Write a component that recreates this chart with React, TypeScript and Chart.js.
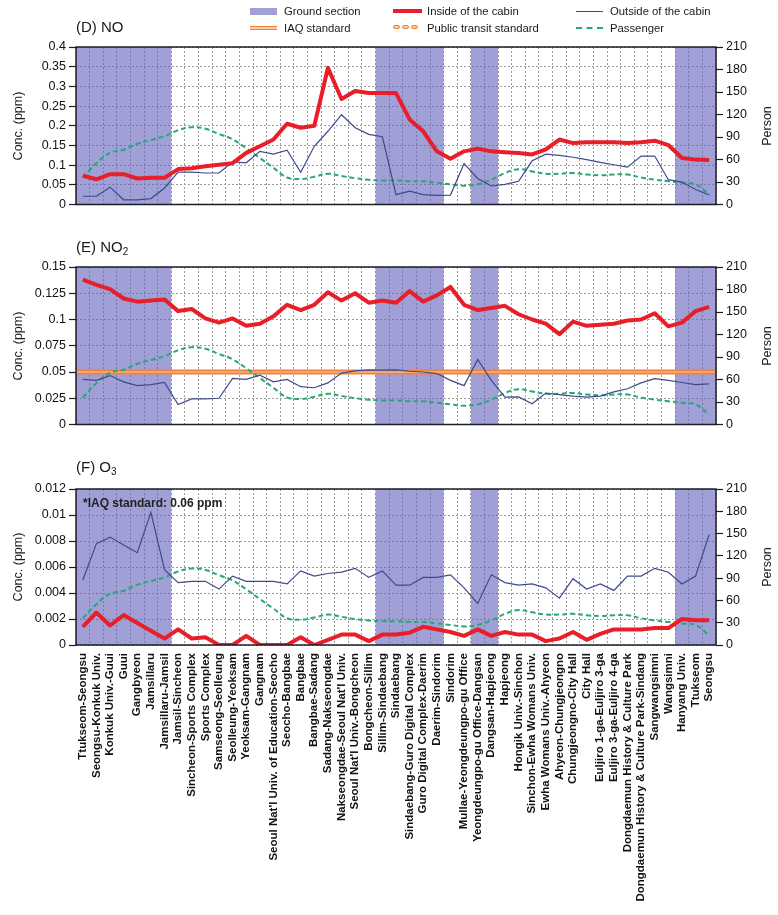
import React, { useEffect, useRef } from "react";
import { Chart, registerables } from "chart.js";

Chart.register(...registerables);

// ---------- data ----------
const stations: string[] = [
  "Ttukseom-Seongsu",
  "Seongsu-Konkuk Univ.",
  "Konkuk Univ.-Guui",
  "Guui",
  "Gangbyeon",
  "Jamsillaru",
  "Jamsillaru-Jamsil",
  "Jamsil-Sincheon",
  "Sincheon-Sports Complex",
  "Sports Complex",
  "Samseong-Seolleung",
  "Seolleung-Yeoksam",
  "Yeoksam-Gangnam",
  "Gangnam",
  "Seoul Nat'l Univ. of Education-Seocho",
  "Seocho-Bangbae",
  "Bangbae",
  "Bangbae-Sadang",
  "Sadang-Nakseongdae",
  "Nakseongdae-Seoul Nat'l Univ.",
  "Seoul Nat'l Univ.-Bongcheon",
  "Bongcheon-Sillim",
  "Sillim-Sindaebang",
  "Sindaebang",
  "Sindaebang-Guro Digital Complex",
  "Guro Digital Complex-Daerim",
  "Daerim-Sindorim",
  "Sindorim",
  "Mullae-Yeongdeungpo-gu Office",
  "Yeongdeungpo-gu Office-Dangsan",
  "Dangsan-Hapjeong",
  "Hapjeong",
  "Hongik Univ.-Sinchon",
  "Sinchon-Ewha Womans Univ.",
  "Ewha Womans Univ.-Ahyeon",
  "Ahyeon-Chungjeongno",
  "Chungjeongno-City Hall",
  "City Hall",
  "Euljiro 1-ga-Euljiro 3-ga",
  "Euljiro 3-ga-Euljiro 4-ga",
  "Dongdaemun History & Culture Park",
  "Dongdaemun History & Culture Park-Sindang",
  "Sangwangsimni",
  "Wangsimni",
  "Hanyang Univ.",
  "Ttukseom",
  "Seongsu",
];

// index ranges (inclusive) of ground sections
const groundSections: [number, number][] = [
  [0, 6],
  [22, 26],
  [29, 30],
  [44, 46],
];

const passenger: number[] = [
  36, 55, 69, 73, 81, 86, 91, 99, 103, 101, 94, 87, 75, 62, 49, 36, 34, 37, 41, 38,
  35, 33, 32, 32, 31, 31, 29, 27, 25, 27, 33, 42, 47, 44, 41, 41, 42, 40, 39, 40,
  40, 36, 33, 31, 29, 27, 13,
];

const noInside: number[] = [
  0.073, 0.064, 0.077, 0.077, 0.066, 0.068, 0.068, 0.09, 0.092, 0.097, 0.101, 0.105,
  0.131, 0.148, 0.165, 0.205, 0.195, 0.2, 0.347, 0.268, 0.288, 0.283, 0.283, 0.283,
  0.216, 0.186, 0.135, 0.116, 0.135, 0.142, 0.135, 0.133, 0.131, 0.127, 0.14, 0.165,
  0.156, 0.158, 0.158, 0.158, 0.156, 0.158, 0.162, 0.151, 0.118, 0.114, 0.113,
];
const noOutside: number[] = [
  0.021, 0.021, 0.044, 0.012, 0.012, 0.015, 0.042, 0.082, 0.082, 0.08, 0.08, 0.108,
  0.106, 0.135, 0.128, 0.138, 0.082, 0.148, 0.186, 0.228, 0.195, 0.178, 0.172, 0.025,
  0.034, 0.025, 0.023, 0.024, 0.104, 0.066, 0.047, 0.051, 0.059, 0.111, 0.128, 0.125,
  0.12, 0.114, 0.107, 0.101, 0.095, 0.123, 0.123, 0.063, 0.057, 0.038, 0.024,
];

const no2Inside: number[] = [
  0.138, 0.133, 0.129, 0.12, 0.117, 0.118, 0.119, 0.108, 0.11, 0.101, 0.097, 0.101,
  0.094, 0.096, 0.103, 0.114, 0.109, 0.114, 0.126, 0.118, 0.125, 0.116, 0.118, 0.116,
  0.127, 0.117, 0.123, 0.131, 0.114, 0.109, 0.111, 0.113, 0.105, 0.1, 0.096, 0.086,
  0.098, 0.094, 0.095, 0.096, 0.099, 0.1, 0.106, 0.0935, 0.097, 0.108, 0.112,
];
const no2Outside: number[] = [
  0.043, 0.042, 0.0466, 0.0406, 0.037, 0.038, 0.04, 0.019, 0.0244, 0.0244, 0.025, 0.044,
  0.043, 0.047, 0.0406, 0.043, 0.036, 0.035, 0.0396, 0.049, 0.051, 0.052, 0.0517, 0.052,
  0.0507, 0.05, 0.0485, 0.042, 0.037, 0.062, 0.042, 0.026, 0.0263, 0.0197, 0.03, 0.0285,
  0.027, 0.026, 0.027, 0.031, 0.034, 0.0396, 0.0437, 0.042, 0.04, 0.038, 0.0387,
];
const no2IaqStandard: number[] = [0.05];

const o3Inside: number[] = [
  0.0014, 0.0025, 0.0015, 0.0023, 0.0017, 0.0011, 0.0005, 0.0012, 0.0005, 0.0006, 0, 0,
  0.0007, 0, 0, 0, 0.0006, 0, 0.0004, 0.0008, 0.0008, 0.0003, 0.0008, 0.0008, 0.00095,
  0.0014, 0.0012, 0.001, 0.0007, 0.0012, 0.0007, 0.001, 0.0008, 0.0008, 0.0003, 0.0005,
  0.001, 0.0004, 0.00085, 0.0012, 0.0012, 0.0012, 0.0013, 0.0013, 0.002, 0.0019, 0.0019,
];
const o3Outside: number[] = [
  0.005, 0.0078, 0.0083, 0.0077, 0.0071, 0.0102, 0.0058, 0.0048, 0.0049, 0.0049, 0.0043,
  0.0053, 0.0049, 0.0049, 0.0049, 0.0047, 0.0057, 0.0053, 0.0055, 0.0056, 0.0059, 0.0052,
  0.0057, 0.0046, 0.0046, 0.0052, 0.0052, 0.0054, 0.0044, 0.0032, 0.0054, 0.0048, 0.0046,
  0.0047, 0.0044, 0.0036, 0.0051, 0.0043, 0.0047, 0.0042, 0.0053, 0.0053, 0.0059, 0.0056,
  0.0047, 0.0053, 0.0085,
];

const personMax = 210;
const personStep = 30;

// ---------- styles ----------
const FONT = "'Liberation Sans', Arial, Helvetica, sans-serif";
const RED = "rgb(232,30,40)";
const NAVY = "rgb(62,74,140)";
const GREEN = "rgb(40,168,118)";
const ORANGE = "rgb(240,128,58)";
const ORANGE_LIGHT = "rgb(250,206,170)";
const SHADE = "rgba(97,97,188,0.6)";
const GRID = "#9c9c9c";
const AXIS = "#1c1c28";

const panelPlugin = {
  id: "panel",
  beforeDatasetsDraw(chart: any, _args: any, opts: any) {
    const { ctx, chartArea: a, scales } = chart;
    const xs = scales.x;
    const half = (xs.getPixelForValue(1) - xs.getPixelForValue(0)) / 2;
    ctx.save();
    ctx.fillStyle = SHADE;
    for (const [s, e] of groundSections) {
      const x0 = xs.getPixelForValue(s) - half;
      const x1 = xs.getPixelForValue(e) + half;
      ctx.fillRect(x0, a.top, x1 - x0, a.bottom - a.top);
    }
    const ys = scales.y;
    for (const v of opts.standard || []) {
      const y = ys.getPixelForValue(v);
      ctx.beginPath();
      ctx.strokeStyle = ORANGE;
      ctx.lineWidth = 5;
      ctx.moveTo(a.left, y);
      ctx.lineTo(a.right, y);
      ctx.stroke();
      ctx.beginPath();
      ctx.strokeStyle = ORANGE_LIGHT;
      ctx.lineWidth = 1;
      ctx.moveTo(a.left, y);
      ctx.lineTo(a.right, y);
      ctx.stroke();
    }
    ctx.restore();
  },
  afterDraw(chart: any) {
    const { ctx, chartArea: a } = chart;
    ctx.save();
    ctx.strokeStyle = AXIS;
    ctx.lineWidth = 1.5;
    ctx.strokeRect(a.left, a.top, a.right - a.left, a.bottom - a.top);
    ctx.restore();
  },
};

type PanelSpec = {
  inside: number[];
  outside: number[];
  max: number;
  step: number;
  standard: number[];
  showLabels: boolean;
  padTop: number;
  xHeight: number;
};

function buildConfig(p: PanelSpec): any {
  const tickFont = { family: FONT, size: 12.5 };
  return {
    type: "line",
    data: {
      labels: stations,
      datasets: [
        {
          label: "Inside of the cabin",
          data: p.inside,
          yAxisID: "y",
          borderColor: RED,
          borderWidth: 4,
          pointRadius: 0,
          borderJoinStyle: "round",
          tension: 0,
        },
        {
          label: "Outside of the cabin",
          data: p.outside,
          yAxisID: "y",
          borderColor: NAVY,
          borderWidth: 1.2,
          pointRadius: 0,
          tension: 0,
        },
        {
          label: "Passenger",
          data: passenger,
          yAxisID: "y1",
          borderColor: GREEN,
          borderWidth: 2,
          borderDash: [5, 3],
          pointRadius: 0,
          tension: 0.4,
        },
      ],
    },
    options: {
      animation: false,
      responsive: true,
      maintainAspectRatio: false,
      layout: { padding: { top: p.padTop, left: 0, right: 0, bottom: 0 } },
      plugins: {
        legend: { display: false },
        tooltip: { enabled: false },
        panel: { standard: p.standard },
      },
      scales: {
        x: {
          type: "category",
          offset: true,
          grid: { offset: true, color: GRID, lineWidth: 1, drawTicks: false },
          border: { display: false, dash: [2, 2] },
          ticks: {
            display: p.showLabels,
            autoSkip: false,
            minRotation: 90,
            maxRotation: 90,
            padding: 8,
            color: "#111",
            font: { family: FONT, size: 11.5, weight: "bold" },
          },
          afterFit: (s: any) => {
            s.height = p.xHeight;
          },
        },
        y: {
          position: "left",
          min: 0,
          max: p.max,
          ticks: {
            stepSize: p.step,
            color: "#111",
            padding: 3,
            font: tickFont,
            callback: (v: any) => String(Number(Number(v).toFixed(4))),
          },
          grid: {
            color: GRID,
            lineWidth: 1,
            tickColor: AXIS,
            tickLength: 7,
            tickWidth: 1.2,
            tickBorderDash: [],
          },
          border: { display: false, dash: [2, 2] },
          afterFit: (s: any) => {
            s.width = 76;
          },
        },
        y1: {
          position: "right",
          min: 0,
          max: personMax,
          ticks: {
            stepSize: personStep,
            color: "#111",
            padding: 3,
            font: tickFont,
          },
          grid: {
            drawOnChartArea: false,
            tickColor: AXIS,
            tickLength: 7,
            tickWidth: 1.2,
            tickBorderDash: [],
          },
          border: { display: false },
          afterFit: (s: any) => {
            s.width = 62;
          },
        },
      },
    },
    plugins: [panelPlugin],
  };
}

function Panel({ spec, top, height }: { spec: PanelSpec; top: number; height: number }) {
  const ref = useRef<HTMLCanvasElement>(null);
  useEffect(() => {
    const chart = new Chart(ref.current as HTMLCanvasElement, buildConfig(spec));
    return () => chart.destroy();
  }, []);
  return (
    <div style={{ position: "absolute", left: 0, top, width: 778, height }}>
      <canvas ref={ref} />
    </div>
  );
}

const textBase: React.CSSProperties = {
  position: "absolute",
  fontFamily: FONT,
  color: "#1a1a1a",
  whiteSpace: "nowrap",
};

function VTitle({ x, y, text }: { x: number; y: number; text: string }) {
  return (
    <div
      style={{
        ...textBase,
        left: x,
        top: y,
        fontSize: 12.5,
        transform: "translate(-50%, -50%) rotate(-90deg)",
      }}
    >
      {text}
    </div>
  );
}

function Legend() {
  const item = (x: number, y: number, swatch: React.ReactNode, label: string) => (
    <div style={{ position: "absolute", left: x, top: y - 8, height: 16, display: "flex", alignItems: "center" }}>
      <div style={{ width: 28, height: 16, position: "relative", marginRight: 6 }}>{swatch}</div>
      <span style={{ fontFamily: FONT, fontSize: 11.3, color: "#1a1a1a", whiteSpace: "nowrap" }}>{label}</span>
    </div>
  );
  const sw = (style: React.CSSProperties) => <div style={{ position: "absolute", left: 0, ...style }} />;
  return (
    <>
      {item(250, 11, sw({ top: 4.5, width: 27, height: 7, background: "rgb(160,160,214)" }), "Ground section")}
      {item(393, 11, sw({ top: 6, width: 29, height: 4, background: RED }), "Inside of the cabin")}
      {item(576, 11, sw({ top: 7.5, width: 27, height: 1.2, background: NAVY }), "Outside of the cabin")}
      {item(
        250,
        28,
        sw({
          top: 5.5,
          width: 27,
          height: 2,
          background: ORANGE_LIGHT,
          borderTop: `1.5px solid ${ORANGE}`,
          borderBottom: `1.5px solid ${ORANGE}`,
        }),
        "IAQ standard"
      )}
      {item(
        393,
        28,
        <div style={{ position: "absolute", left: 0, top: 5, display: "flex", gap: 2 }}>
          {[0, 1, 2].map((k) => (
            <div
              key={k}
              style={{
                width: 5,
                height: 2,
                background: ORANGE_LIGHT,
                border: `1.5px solid ${ORANGE}`,
                borderRadius: 3,
              }}
            />
          ))}
        </div>,
        "Public transit standard"
      )}
      {item(576, 28, sw({ top: 7, width: 27, height: 0, borderTop: `2px dashed ${GREEN}` }), "Passenger")}
    </>
  );
}

export default function App() {
  useEffect(() => {
    document.body.style.margin = "0";
  }, []);

  const specD: PanelSpec = {
    inside: noInside,
    outside: noOutside,
    max: 0.4,
    step: 0.05,
    standard: [],
    showLabels: false,
    padTop: 47,
    xHeight: 10,
  };
  const specE: PanelSpec = {
    inside: no2Inside,
    outside: no2Outside,
    max: 0.15,
    step: 0.025,
    standard: no2IaqStandard,
    showLabels: false,
    padTop: 52,
    xHeight: 10,
  };
  const specF: PanelSpec = {
    inside: o3Inside,
    outside: o3Outside,
    max: 0.012,
    step: 0.002,
    standard: [],
    showLabels: true,
    padTop: 54,
    xHeight: 270,
  };

  return (
    <div style={{ position: "absolute", left: 0, top: 0, width: 778, height: 915, background: "#fff", overflow: "hidden" }}>
      <Panel spec={specD} top={0} height={215} />
      <Panel spec={specE} top={215} height={220} />
      <Panel spec={specF} top={435} height={480} />
      <Legend />
      <div style={{ ...textBase, left: 76, top: 18, fontSize: 15, lineHeight: "18px" }}>(D) NO</div>
      <div style={{ ...textBase, left: 76, top: 238, fontSize: 15, lineHeight: "18px" }}>
        (E) NO<sub style={{ fontSize: 10, verticalAlign: "-3px", lineHeight: 0 }}>2</sub>
      </div>
      <div style={{ ...textBase, left: 76, top: 458, fontSize: 15, lineHeight: "18px" }}>
        (F) O<sub style={{ fontSize: 10, verticalAlign: "-3px", lineHeight: 0 }}>3</sub>
      </div>
      <div style={{ ...textBase, left: 83, top: 496, fontSize: 12, fontWeight: "bold", lineHeight: "14px", color: "#222" }}>
        *IAQ standard: 0.06 ppm
      </div>
      <VTitle x={18} y={126} text="Conc. (ppm)" />
      <VTitle x={18} y={346} text="Conc. (ppm)" />
      <VTitle x={18} y={567} text="Conc. (ppm)" />
      <VTitle x={767} y={126} text="Person" />
      <VTitle x={767} y={346} text="Person" />
      <VTitle x={767} y={567} text="Person" />
    </div>
  );
}
